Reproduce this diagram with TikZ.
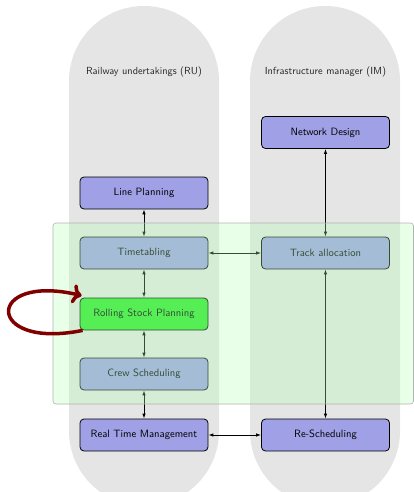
\documentclass[tikz,border=0pt]{standalone}
\usetikzlibrary{arrows.meta}
\definecolor{colgrey}{RGB}{229,229,229}
\definecolor{taskfill}{RGB}{160,160,230}
\definecolor{rspfill}{RGB}{45,232,45}
\definecolor{loopred}{RGB}{128,0,0}
\tikzset{
  task/.style={draw=black, line width=0.8pt, rounded corners=4pt, fill=taskfill,
    minimum width=128pt, minimum height=32pt, inner sep=0pt,
    font=\sffamily\fontsize{10.6}{12}\selectfont},
  column/.style={fill=colgrey, rounded corners=75pt},
  coltitle/.style={font=\sffamily\fontsize{10.3}{12}\selectfont, text=black!85},
  tip/.style={Latex[length=5pt,width=3.6pt]},
  conn/.style={line width=0.95pt, {Latex[length=5pt,width=3.6pt]}-{Latex[length=5pt,width=3.6pt]}},
  overlay/.style={fill=green!30, fill opacity=0.3, draw=black!30, line width=0.6pt, rounded corners=3pt},
}
\begin{document}
\begin{tikzpicture}[x=1pt, y=-1pt]
  \useasboundingbox (0,0) rectangle (414,492);
  \clip (0,0) rectangle (414,492);

  % organisation columns
  \fill[column] (69,6) rectangle (219,506);
  \fill[column] (250,6) rectangle (400,506);
  \node[coltitle] (ru) at (144,72) {Railway undertakings (RU)};
  \node[coltitle] (im) at (325.5,72) {Infrastructure manager (IM)};

  % planning tasks
  \node[task] (nd)  at (325.5,132.5) {Network Design};
  \node[task] (lp)  at (144,193) {Line Planning};
  \node[task] (tt)  at (144,253) {Timetabling};
  \node[task] (ta)  at (325.5,253) {Track allocation};
  \node[task, fill=rspfill] (rsp) at (144,314) {Rolling Stock Planning};
  \node[task] (cs)  at (144,374) {Crew Scheduling};
  \node[task] (rtm) at (144,435) {Real Time Management};
  \node[task] (rs)  at (325.5,435) {Re-Scheduling};

  % dependencies
  \draw[conn] (lp) -- (tt);
  \draw[conn] (tt) -- (rsp);
  \draw[conn] (rsp) -- (cs);
  \draw[conn] (cs) -- (rtm);
  \draw[conn] (tt) -- (ta);
  \draw[conn] (nd) -- (ta);
  \draw[conn] (ta) -- (rs);
  \draw[conn] (rtm) -- (rs);

  % tactical planning band
  \draw[overlay] (53,223) rectangle (413.5,404);

  % iteration of rolling stock planning
  \draw[loopred, line width=3.5pt, ->]
    ([xshift=3pt]rsp.south west) .. controls +(-98,20) and +(-97,-23) .. ([shift={(2,-2)}]rsp.north west);
\end{tikzpicture}
\end{document}
